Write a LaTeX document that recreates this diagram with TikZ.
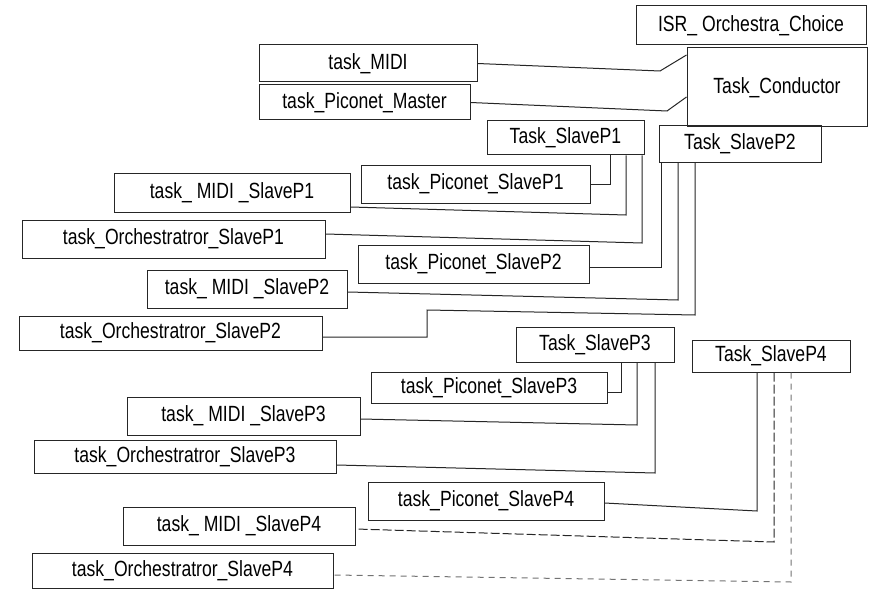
\documentclass[tikz,border=0pt]{standalone}
\usepackage{fontspec}
\setmainfont{Liberation Sans}[FakeStretch=0.8]
\begin{document}
\begin{tikzpicture}[x=1pt,y=-1pt,
  box/.style={draw=black!85, line width=1pt, inner sep=0pt, anchor=center,
    font=\fontsize{22}{24}\selectfont},
  wire/.style={draw=black!85, line width=1pt},
  faint/.style={wire, dash pattern=on 9pt off 3pt},
  fainter/.style={draw=black!55, line width=1pt, dash pattern=on 6pt off 5pt}]
\useasboundingbox (0,0) rectangle (870,591);
\fill[white] (0,0) rectangle (870,591);

\node[box, minimum width=230pt, minimum height=39pt] (isr)   at (751,25.5)  {ISR\_ Orchestra\_Choice};
\node[box, minimum width=218pt, minimum height=37pt] (tmidi) at (368,63.5)  {task\_MIDI};
\node[box, minimum width=180pt, minimum height=79pt] (cond)  at (777,87.5)  {Task\_Conductor};
\node[box, minimum width=211pt, minimum height=35pt] (tpm)   at (364.5,102.5) {task\_Piconet\_Master};

\node[box, minimum width=157pt, minimum height=34pt] (s1) at (565.5,138) {Task\_SlaveP1};
\node[box, minimum width=162pt, minimum height=36pt] (s2) at (740,144)   {Task\_SlaveP2};
\node[box, minimum width=229pt, minimum height=38pt] (p1) at (475.5,184) {task\_Piconet\_SlaveP1};
\node[box, minimum width=236pt, minimum height=39pt] (m1) at (232,192.5) {task\_ MIDI \_SlaveP1};
\node[box, minimum width=303pt, minimum height=38pt] (o1) at (173.5,239) {task\_Orchestratror\_SlaveP1};
\node[box, minimum width=231pt, minimum height=38pt] (p2) at (473.5,264) {task\_Piconet\_SlaveP2};
\node[box, minimum width=200pt, minimum height=38pt] (m2) at (247,289)   {task\_ MIDI \_SlaveP2};
\node[box, minimum width=303pt, minimum height=34pt] (o2) at (170.5,333) {task\_Orchestratror\_SlaveP2};

\node[box, minimum width=158pt, minimum height=35pt] (s3) at (595,344.5) {Task\_SlaveP3};
\node[box, minimum width=158pt, minimum height=32pt] (s4) at (771,356)   {Task\_SlaveP4};
\node[box, minimum width=236pt, minimum height=31pt] (p3) at (489,387.5) {task\_Piconet\_SlaveP3};
\node[box, minimum width=233pt, minimum height=38pt] (m3) at (243.5,416) {task\_ MIDI \_SlaveP3};
\node[box, minimum width=302pt, minimum height=33pt] (o3) at (185,456.5) {task\_Orchestratror\_SlaveP3};
\node[box, minimum width=236pt, minimum height=38pt] (p4) at (486,501)   {task\_Piconet\_SlaveP4};
\node[box, minimum width=232pt, minimum height=38pt] (m4) at (239,526)   {task\_ MIDI \_SlaveP4};
\node[box, minimum width=301pt, minimum height=35pt] (o4) at (182.5,570.5) {task\_Orchestratror\_SlaveP4};

% Conductor
\draw[wire] (tmidi.east) -- (660,71) -- ([yshift=32.5pt]cond.west);
\draw[wire] (tpm.east) -- (667,111) -- ([yshift=-9.5pt]cond.west);

% SlaveP1
\draw[wire] ([xshift=44.5pt]s1.south) |- (p1.east);
\draw[wire] ([xshift=60.5pt]s1.south) -- (626,215) -- ([yshift=-14.5pt]m1.east);
\draw[wire] ([xshift=76.5pt]s1.south) -- (642,243) -- ([yshift=5pt]o1.east);

% SlaveP2
\draw[wire] ([xshift=-79pt]s2.south) |- ([yshift=-3pt]p2.east);
\draw[wire] ([xshift=-62pt]s2.south) -- (678,300) -- ([yshift=-3pt]m2.east);
\draw[wire] ([xshift=-45pt]s2.south) -- (695,315) -- (427,310) -- (427,337) -- ([yshift=-4pt]o2.east);

% SlaveP3
\draw[wire] ([xshift=26pt]s3.south) |- ([yshift=-4.5pt]p3.east);
\draw[wire] ([xshift=42pt]s3.south) -- (637,425) -- ([yshift=-3pt]m3.east);
\draw[wire] ([xshift=60pt]s3.south) -- (655,473) -- ([yshift=-8.5pt]o3.east);

% SlaveP4
\draw[wire] ([xshift=-14pt]s4.south) -- (757,511) -- ([yshift=-2pt]p4.east);
\draw[faint] ([xshift=3pt]s4.south) -- (774,542) -- ([yshift=-3pt]m4.east);
\draw[fainter] ([xshift=20pt]s4.south) -- (791,582) -- ([yshift=-4.5pt]o4.east);
\end{tikzpicture}
\end{document}
